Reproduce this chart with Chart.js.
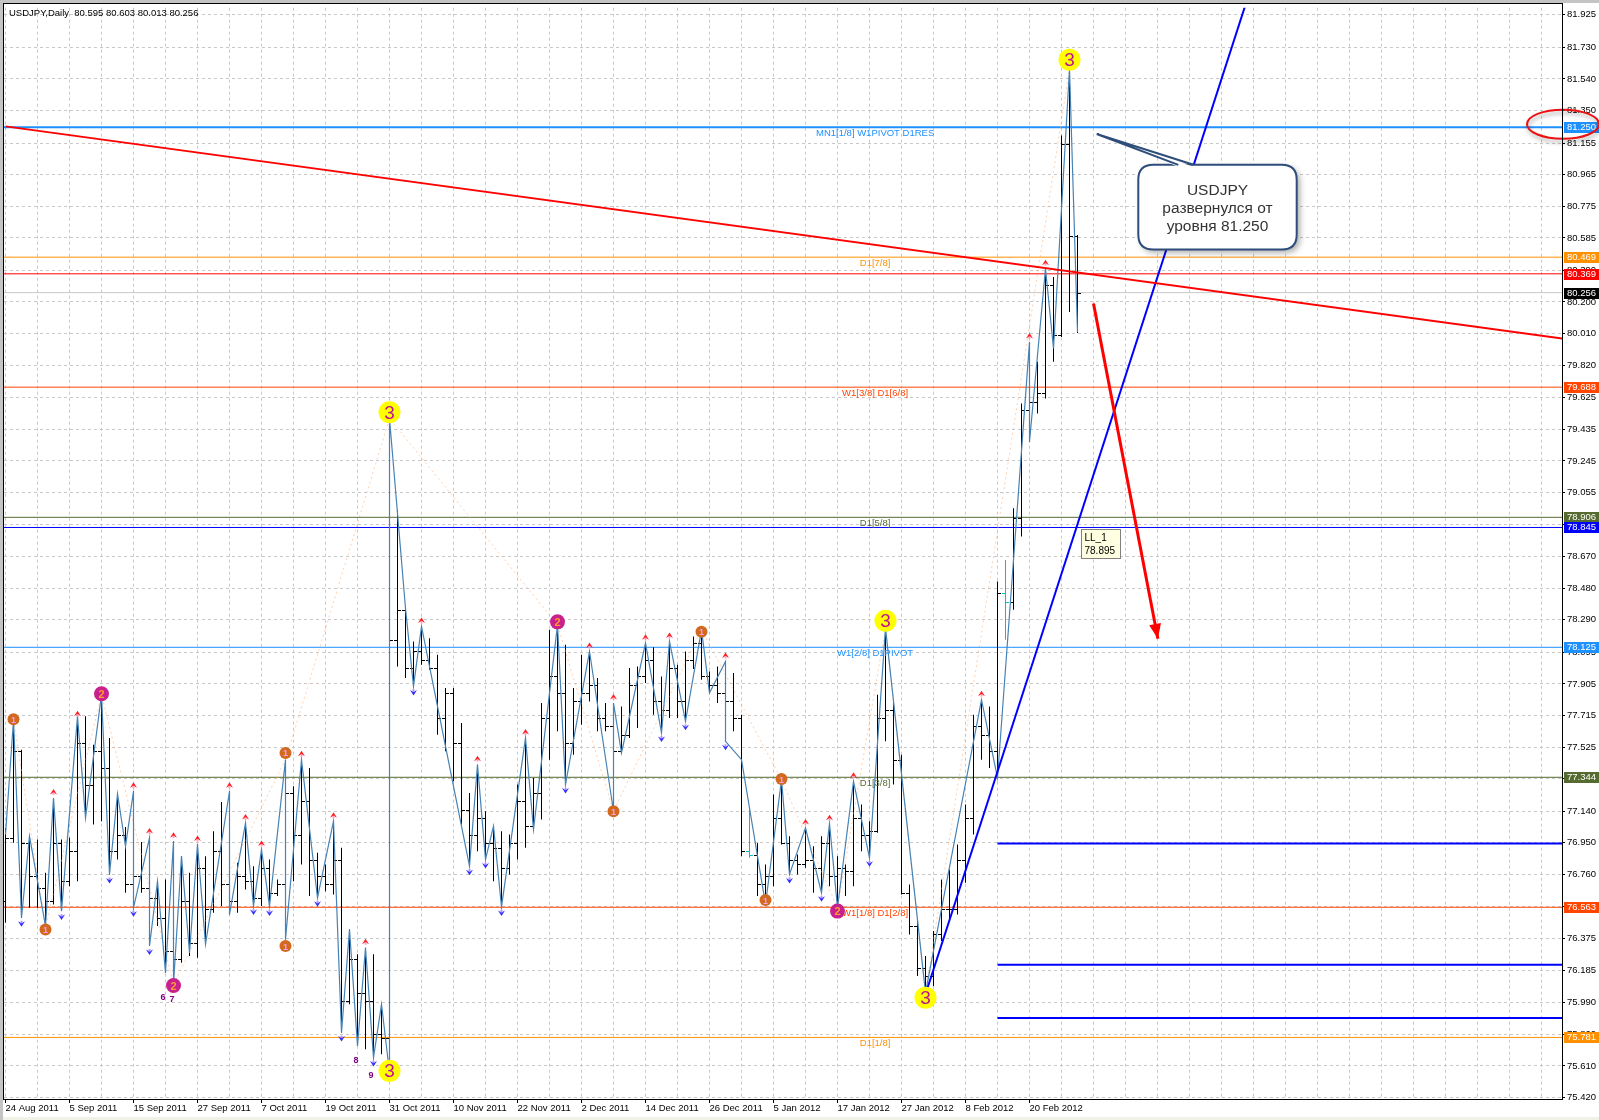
<!DOCTYPE html>
<html>
<head>
<meta charset="utf-8">
<title>USDJPY Daily</title>
<script src="https://cdn.jsdelivr.net/npm/chart.js@4.4.1/dist/chart.umd.min.js"></script>
<style>
html,body{margin:0;padding:0;background:#ffffff;overflow:hidden;}
#c{display:block;}
</style>
</head>
<body>
<canvas id="c" width="1599" height="1120" style="width:1599px;height:1120px"></canvas>
<script>
const FONT = '"Liberation Sans", Arial, sans-serif';
const symbolName = 'USDJPY';
const periodName = 'Daily';

const dateLabels = ['24 Aug 2011','5 Sep 2011','15 Sep 2011','27 Sep 2011','7 Oct 2011','19 Oct 2011','31 Oct 2011','10 Nov 2011','22 Nov 2011','2 Dec 2011','14 Dec 2011','26 Dec 2011','5 Jan 2012','17 Jan 2012','27 Jan 2012','8 Feb 2012','20 Feb 2012'];
const yTickValues = [81.925,81.730,81.540,81.350,81.155,80.965,80.775,80.585,80.390,80.200,80.010,79.820,79.625,79.435,79.245,79.055,78.860,78.670,78.480,78.290,78.095,77.905,77.715,77.525,77.335,77.140,76.950,76.760,76.570,76.375,76.185,75.990,75.800,75.610,75.420];

const opens = [76.60,76.98,77.50,76.95,76.75,76.68,76.60,76.95,76.72,76.90,
 77.55,77.30,77.50,77.40,76.90,77.00,76.70,76.75,76.68,76.62,
 76.50,76.30,76.25,76.60,76.35,76.80,76.55,76.90,76.70,76.60,
 76.75,76.72,76.62,76.80,76.65,76.70,77.25,77.00,77.20,76.85,
 76.75,76.70,76.85,76.00,76.25,76.05,76.00,75.80,75.78,78.17,
 78.35,78.00,78.10,78.05,78.00,77.70,77.85,77.55,77.15,77.00,
 77.10,76.95,76.92,76.80,76.95,77.20,77.05,77.25,77.70,77.95,
 77.85,77.55,77.80,77.85,77.90,77.70,77.65,77.50,77.60,77.90,
 77.95,78.05,77.80,77.75,78.00,77.80,78.05,78.15,77.95,77.90,
 77.85,77.80,77.70,76.90,76.88,76.70,76.75,77.10,76.95,76.85,
 76.82,76.85,76.80,76.95,76.75,76.80,76.78,77.10,77.00,77.02,
 77.70,77.75,77.45,76.65,76.45,76.20,76.15,76.40,76.55,76.55,
 76.85,77.10,77.65,77.60,77.50,78.45,78.40,78.90,79.55,79.60,
 79.65,80.30,80.00,81.15,80.595];
const highs = [77.04,77.69,77.51,76.99,76.97,76.77,77.22,76.97,76.98,77.69,
 77.71,77.54,77.84,77.58,77.245,77.045,77.26,76.955,76.985,76.72,
 76.73,76.96,76.87,76.77,76.94,76.87,77.02,77.195,77.26,76.83,
 77.07,76.81,76.91,76.85,76.73,77.45,77.29,77.45,77.40,76.89,
 76.82,77.08,76.92,76.43,76.28,76.32,76.28,75.98,79.50,78.95,
 78.37,78.16,78.25,78.18,78.08,77.88,77.88,77.67,77.25,77.42,
 77.14,77.05,77.02,77.00,77.30,77.58,77.34,77.79,78.23,78.26,
 78.14,77.88,78.08,78.10,77.94,77.79,77.79,77.77,78.00,78.01,
 78.15,78.125,77.95,78.16,78.02,78.10,78.19,78.23,77.98,78.01,
 78.04,77.97,77.72,77.15,76.95,76.82,77.24,77.33,76.99,76.88,
 77.04,76.93,76.99,77.065,76.87,76.82,77.32,77.18,77.08,77.84,
 78.24,77.79,77.48,76.70,76.48,76.27,76.42,76.73,76.79,76.94,
 77.18,77.72,77.81,77.77,78.52,78.65,78.96,79.59,79.96,79.84,
 80.40,80.35,81.20,81.60,80.603];
const lows = [76.47,76.95,76.50,76.56,76.56,76.45,76.58,76.54,76.69,76.72,
 77.10,77.06,77.08,76.76,76.85,76.65,76.56,76.65,76.33,76.45,
 76.17,76.10,76.23,76.27,76.26,76.34,76.53,76.57,76.52,76.53,
 76.67,76.57,76.57,76.565,76.63,76.37,76.72,76.82,76.63,76.62,
 76.66,76.64,75.81,75.98,75.73,75.71,75.66,75.68,75.57,78.01,
 77.94,77.89,78.02,77.99,77.60,77.50,77.32,77.06,76.81,76.90,
 76.85,76.72,76.565,76.76,76.85,76.92,77.03,77.09,77.45,77.62,
 77.30,77.48,77.66,77.80,77.62,77.62,77.14,77.49,77.58,77.64,
 77.91,77.72,77.61,77.70,77.70,77.68,77.995,77.93,77.85,77.79,
 77.56,77.62,76.87,76.86,76.63,76.58,76.69,76.94,76.76,76.76,
 76.80,76.65,76.65,76.69,76.56,76.63,76.69,76.90,76.86,77.01,
 77.56,77.30,76.64,76.40,76.15,76.05,76.09,76.36,76.49,76.52,
 76.71,77.00,77.45,77.40,77.34,78.17,78.35,78.79,79.36,79.53,
 79.62,79.84,79.99,80.14,80.013];
const closes = [76.98,77.50,76.95,76.75,76.68,76.60,76.95,76.72,76.90,77.55,
 77.30,77.50,77.40,76.90,77.00,76.70,76.75,76.68,76.62,76.50,
 76.30,76.25,76.60,76.35,76.80,76.55,76.90,76.70,76.60,76.75,
 76.72,76.62,76.80,76.65,76.70,77.25,77.00,77.20,76.85,76.75,
 76.70,76.85,76.00,76.25,76.05,76.00,75.80,75.78,78.17,78.35,
 78.00,78.10,78.05,78.00,77.70,77.85,77.55,77.15,77.00,77.10,
 76.95,76.92,76.80,76.95,77.20,77.05,77.25,77.70,77.95,77.85,
 77.55,77.80,77.85,77.90,77.70,77.65,77.50,77.60,77.90,77.95,
 78.05,77.80,77.75,78.00,77.80,78.05,78.15,77.95,77.90,77.85,
 77.80,77.70,76.90,76.88,76.70,76.75,77.10,76.95,76.85,76.82,
 76.85,76.80,76.95,76.75,76.80,76.78,77.10,77.00,77.02,77.70,
 77.75,77.45,76.65,76.45,76.20,76.15,76.40,76.55,76.55,76.85,
 77.10,77.65,77.60,77.50,78.45,78.40,78.90,79.55,79.60,79.65,
 80.30,80.00,81.15,80.595,80.256];
const cyanBars = [93,125];

const swingIdx = [0,1,2,3,4,5,6,7,9,10,12,13,14,15,16,16,18,18,19,20,21,21,22,23,24,25,28,28,30,31,32,33,35,35,37,39,41,42,43,44,45,46,47,48,48,50,51,52,58,59,60,61,62,65,66,69,70,73,76,76,77,80,82,83,85,87,88,90,90,92,95,97,98,100,102,103,104,106,108,110,115,122,124,128,128,130,131,133,134];
const swingPrice = [77.00,77.69,76.50,76.99,76.72,76.45,77.22,76.54,77.71,77.10,
 77.84,76.76,77.245,76.93,77.26,76.56,76.98,76.33,76.72,76.17,
 76.96,76.10,76.87,76.29,76.94,76.34,77.26,76.52,77.07,76.57,
 76.91,76.57,77.45,76.37,77.45,76.62,77.08,75.81,76.43,75.73,
 76.32,75.66,75.98,75.57,79.50,78.36,77.89,78.25,76.81,77.42,
 76.85,77.05,76.565,77.58,77.03,78.26,77.30,78.10,77.14,77.79,
 77.49,78.15,77.61,78.16,77.68,78.23,77.85,78.04,77.56,77.45,
 76.58,77.33,76.76,77.04,76.65,77.065,76.56,77.32,76.86,78.24,
 76.05,77.81,77.34,79.96,79.36,80.40,79.92,81.60,80.02];

const waveLineIdx = [1,5,12,21,35,48,69,76,87,97,104,110,115,133];
const waveLinePrice = [77.69,76.45,77.84,76.10,77.45,79.50,78.26,77.14,78.23,77.33,76.56,78.24,76.05,81.60];

const waveIdx = [1,5,35,35,76,87,95,97,12,21,69,104,48,48,110,115,133];
const wavePrice = [77.692,76.43,77.49,76.33,77.14,78.218,76.606,77.333,77.846,76.093,78.278,76.54,79.537,75.58,78.285,76.02,81.656];
const waveNum = [1,1,1,1,1,1,1,1,2,2,2,2,3,3,3,3,3];

const subIdx = [19.7,20.8,43.8,45.7];
const subPrice = [76.020,76.008,75.641,75.555];
const subText = ['6','7','8','9'];

const redArrowIdx = [6,9,16,18,21,24,28,30,32,37,41,45,52,59,65,73,76,80,83,90,100,103,106,122,128,130];
const blueArrowIdx = [2,7,13,16,18,31,33,39,42,46,51,58,60,62,70,82,85,90,98,102,108];

const levelPrice = [81.250,80.469,80.369,80.256,79.688,78.906,78.845,78.125,77.344,76.563,75.781];
const levelColor = ['#1e90ff','#ff9000','#ff0000','#c8c8c8','#ff4500','#556b2f','#0000ff','#1e90ff','#556b2f','#ff4500','#ff9000'];
const levelBoxColor = ['#1e90ff','#ff9000','#ff0000','#000000','#ff4500','#556b2f','#0000ff','#1e90ff','#556b2f','#ff4500','#ff9000'];
const levelWidth = [2,1,1,1,1,1,1,1,1,1,1];
const levelText = ['MN1[1/8] W1PIVOT D1RES','D1[7/8]','','','W1[3/8] D1[6/8]','D1[5/8]','','W1[2/8] D1PIVOT','D1[3/8]','W1[1/8] D1[2/8]','D1[1/8]'];
const levelLabelBar = 108.7;

const partialStart = 124;
const partialPrice = [76.946,76.218,75.898];
const redTrendIdx = [0,194.6];
const redTrendPrice = [81.255,79.98];
const blueTrendIdx = [115,155.5];
const blueTrendPrice = [76.04,82.06];
const arrowIdx = [136.0,144.05];
const arrowPrice = [80.191,78.176];

const noteText = ['USDJPY','развернулся от','уровня 81.250'];
const noteBoxIdx = [141.6,161.4];
const noteBoxPrice = [81.024,80.515];
const noteTailIdx = [136.4,146.6,148.5];
const noteTailPrice = 81.209;
const llIdx = 134.4, llPrice = 78.836;
const llText = ['LL_1','78.895'];
const circledLevel = 81.250;

// ---------- datasets ----------
const gridBars = [];
for (let v = 0; v <= 192; v += 4) gridBars.push(v);

const datasets = [];
levelPrice.forEach((p,k) => datasets.push({
  type:'line', data:[{x:-1,y:p},{x:200,y:p}], borderColor:levelColor[k], borderWidth:levelWidth[k],
  pointRadius:0, order:30
}));
partialPrice.forEach(p => datasets.push({
  type:'line', data:[{x:partialStart,y:p},{x:200,y:p}], borderColor:'#0000ff', borderWidth:2, pointRadius:0, order:25
}));
const OHLC_INDEX = datasets.length;
datasets.push({
  type:'bar', data: highs.map((h,i)=>({x:i, y:[lows[i], h]})),
  backgroundColor: highs.map((h,i)=> cyanBars.includes(i) ? '#00bcd4' : '#000000'),
  borderWidth:0, barThickness:1, inflateAmount:0, grouped:false, order:20
});
datasets.push({
  type:'line', data: waveLineIdx.map((x,k)=>({x, y:waveLinePrice[k]})),
  borderColor:'rgba(255,170,110,0.55)', borderWidth:1, borderDash:[2,3], pointRadius:0, order:15
});
datasets.push({
  type:'line', data: swingIdx.map((x,k)=>({x, y:swingPrice[k]})),
  borderColor:'#4682b4', borderWidth:1.2, pointRadius:0, tension:0, order:12
});
datasets.push({
  type:'line', data: redTrendIdx.map((x,k)=>({x, y:redTrendPrice[k]})),
  borderColor:'#ff0000', borderWidth:2, pointRadius:0, order:10
});
datasets.push({
  type:'line', data: blueTrendIdx.map((x,k)=>({x, y:blueTrendPrice[k]})),
  borderColor:'#0000ff', borderWidth:2, pointRadius:0, order:10
});
const ARROW_INDEX = datasets.length;
datasets.push({
  type:'line', data: arrowIdx.map((x,k)=>({x, y:arrowPrice[k]})),
  borderColor:'#ff0000', borderWidth:3, pointRadius:0, order:8
});

// ---------- overlay plugin ----------
function rr(c, x, y, w, h, r){
  c.beginPath();
  c.moveTo(x+r, y); c.lineTo(x+w-r, y); c.quadraticCurveTo(x+w, y, x+w, y+r);
  c.lineTo(x+w, y+h-r); c.quadraticCurveTo(x+w, y+h, x+w-r, y+h);
  c.lineTo(x+r, y+h); c.quadraticCurveTo(x, y+h, x, y+h-r);
  c.lineTo(x, y+r); c.quadraticCurveTo(x, y, x+r, y); c.closePath();
}

const overlay = {
  id:'overlay',
  beforeDraw(chart){
    const c = chart.ctx; c.save();
    c.fillStyle = '#ffffff'; c.fillRect(0,0,1599,1120);
    c.fillStyle = '#c4c4c4'; c.fillRect(0,0,1599,3); c.fillRect(0,0,3,1120);
    c.fillStyle = '#f1f1e8'; c.fillRect(3,1117,1596,3);
    c.restore();
  },
  afterDatasetDraw(chart, args){
    if (args.index !== OHLC_INDEX) return;
    const c = chart.ctx, xs = chart.scales.x, ys = chart.scales.y, a = chart.chartArea;
    c.save();
    c.beginPath(); c.rect(a.left, a.top, a.right-a.left, a.bottom-a.top); c.clip();
    c.lineWidth = 1;
    for (let i = 0; i < opens.length; i++){
      const x = Math.round(xs.getPixelForValue(i) - 0.5);
      const yo = Math.round(ys.getPixelForValue(opens[i])) + 0.5;
      const yc = Math.round(ys.getPixelForValue(closes[i])) + 0.5;
      c.strokeStyle = cyanBars.includes(i) ? '#00bcd4' : '#000000';
      c.beginPath();
      c.moveTo(x-3, yo); c.lineTo(x, yo);
      c.moveTo(x+1, yc); c.lineTo(x+4, yc);
      c.stroke();
    }
    c.restore();
  },
  afterDatasetsDraw(chart){
    const c = chart.ctx, xs = chart.scales.x, ys = chart.scales.y, a = chart.chartArea;
    const X = v => xs.getPixelForValue(v), Y = v => ys.getPixelForValue(v);
    c.save();
    c.beginPath(); c.rect(a.left, a.top, a.right-a.left, a.bottom-a.top); c.clip();

    // red arrow head
    const ad = chart.data.datasets[ARROW_INDEX].data;
    const p0 = {x:X(ad[0].x), y:Y(ad[0].y)}, p1 = {x:X(ad[1].x), y:Y(ad[1].y)};
    const ang = Math.atan2(p1.y-p0.y, p1.x-p0.x);
    const hl = 15, hw = 6;
    c.fillStyle = '#ff0000';
    c.beginPath();
    c.moveTo(p1.x, p1.y);
    c.lineTo(p1.x - hl*Math.cos(ang) + hw*Math.sin(ang), p1.y - hl*Math.sin(ang) - hw*Math.cos(ang));
    c.lineTo(p1.x - hl*Math.cos(ang) - hw*Math.sin(ang), p1.y - hl*Math.sin(ang) + hw*Math.cos(ang));
    c.closePath(); c.fill();

    // fractal arrows
    redArrowIdx.forEach(i => {
      const x = X(i), y = Y(highs[i]) - 6;
      c.fillStyle = '#ff2020';
      c.beginPath(); c.moveTo(x-3.5, y+2.5); c.lineTo(x, y-3); c.lineTo(x+3.5, y+2.5); c.lineTo(x, y+0.5); c.closePath(); c.fill();
      c.fillStyle = 'rgba(255,150,190,0.9)'; c.fillRect(x-1, y+0.5, 2, 2.5);
    });
    blueArrowIdx.forEach(i => {
      const x = X(i), y = Y(lows[i]) + 6;
      c.fillStyle = '#3030ff';
      c.beginPath(); c.moveTo(x-3.5, y-2.5); c.lineTo(x, y+3); c.lineTo(x+3.5, y-2.5); c.lineTo(x, y-0.5); c.closePath(); c.fill();
      c.fillStyle = 'rgba(170,140,255,0.9)'; c.fillRect(x-1, y-3, 2, 2.5);
    });

    // level labels
    c.font = '9.5px ' + FONT; c.textAlign = 'center'; c.textBaseline = 'middle';
    levelPrice.forEach((p,k) => {
      if (!levelText[k]) return;
      c.fillStyle = levelColor[k];
      c.fillText(levelText[k], X(levelLabelBar), Y(p) + 6);
    });

    // small count digits
    c.font = 'bold 9px ' + FONT; c.fillStyle = '#800080';
    subText.forEach((t,k) => c.fillText(t, X(subIdx[k]), Y(subPrice[k])));

    // wave circles
    waveIdx.forEach((i,k) => {
      const x = X(i), y = Y(wavePrice[k]), n = waveNum[k];
      let r, fill, col, fs;
      if (n === 1){ r = 6; fill = '#d2691e'; col = '#f0a0e8'; fs = 'bold 9px '; }
      else if (n === 2){ r = 7.5; fill = '#c8208c'; col = '#ff9a30'; fs = 'bold 11px '; }
      else { r = 11; fill = '#ffff00'; col = '#c0148c'; fs = '19px '; }
      c.fillStyle = fill; c.beginPath(); c.arc(x, y, r, 0, Math.PI*2); c.fill();
      c.fillStyle = col; c.font = fs + FONT; c.textAlign = 'center'; c.textBaseline = 'middle';
      c.fillText(String(n), x, y + 1);
    });

    // LL_1 label
    const lx = Math.round(X(llIdx)) + 0.5, ly = Math.round(Y(llPrice)) + 0.5;
    c.fillStyle = '#ffffe1'; c.fillRect(lx, ly, 39, 29);
    c.strokeStyle = '#808080'; c.lineWidth = 1; c.strokeRect(lx, ly, 39, 29);
    c.fillStyle = '#000000'; c.font = '10px ' + FONT; c.textAlign = 'left'; c.textBaseline = 'middle';
    c.fillText(llText[0], lx + 3, ly + 8.5); c.fillText(llText[1], lx + 3, ly + 21.5);
    c.restore();

    // price boxes on the axis
    c.save();
    c.font = '9.5px ' + FONT; c.textAlign = 'left'; c.textBaseline = 'middle';
    levelPrice.forEach((p,k) => {
      const y = Math.round(Y(p));
      c.fillStyle = levelBoxColor[k];
      c.fillRect(a.right + 2, y - 5, 35, 11);
      c.fillStyle = '#ffffff';
      c.fillText(p.toFixed(3), a.right + 5, y + 0.5);
    });
    c.restore();
  },
  afterDraw(chart){
    const c = chart.ctx, xs = chart.scales.x, ys = chart.scales.y, a = chart.chartArea;
    const X = v => xs.getPixelForValue(v), Y = v => ys.getPixelForValue(v);
    c.save();
    // callout
    const bx1 = X(noteBoxIdx[0]), bx2 = X(noteBoxIdx[1]), by1 = Y(noteBoxPrice[0]), by2 = Y(noteBoxPrice[1]);
    c.save();
    c.shadowColor = 'rgba(0,0,0,0.35)'; c.shadowBlur = 6; c.shadowOffsetX = 3; c.shadowOffsetY = 3;
    rr(c, bx1, by1, bx2-bx1, by2-by1, 15); c.fillStyle = '#ffffff'; c.fill();
    c.restore();
    c.lineWidth = 2; c.strokeStyle = '#2e4d7b';
    rr(c, bx1, by1, bx2-bx1, by2-by1, 15); c.stroke();
    const tx = X(noteTailIdx[0]), ty = Y(noteTailPrice);
    const t1 = X(noteTailIdx[1]), t2 = X(noteTailIdx[2]);
    c.fillStyle = '#ffffff';
    c.beginPath(); c.moveTo(tx, ty); c.lineTo(t1, by1 + 2); c.lineTo(t2, by1 + 2); c.closePath(); c.fill();
    c.beginPath(); c.moveTo(t1, by1); c.lineTo(tx, ty); c.lineTo(t2, by1); c.stroke();
    c.fillStyle = '#333333'; c.font = '15.5px ' + FONT; c.textAlign = 'center'; c.textBaseline = 'middle';
    const cx = (bx1 + bx2) / 2;
    c.fillText(noteText[0], cx, by1 + 25.6);
    c.fillText(noteText[1], cx, by1 + 44.3);
    c.fillText(noteText[2], cx, by1 + 61.6);

    // red ellipse around the 81.250 price box
    c.save();
    c.shadowColor = 'rgba(0,0,0,0.35)'; c.shadowBlur = 4; c.shadowOffsetX = 1; c.shadowOffsetY = 3;
    c.strokeStyle = '#ee1111'; c.lineWidth = 2;
    c.beginPath(); c.ellipse(a.right + 1, Y(circledLevel) - 3, 36, 14.5, 0, 0, Math.PI*2); c.stroke();
    c.restore();

    // header
    const L = opens.length - 1;
    c.fillStyle = '#000000'; c.font = '9.5px ' + FONT; c.textAlign = 'left'; c.textBaseline = 'middle';
    c.fillText(symbolName + ',' + periodName + '  ' + [opens[L], highs[L], lows[L], closes[L]].map(v=>v.toFixed(3)).join(' '), 9, 13.5);

    // frame
    c.strokeStyle = '#000000'; c.lineWidth = 1;
    c.strokeRect(3.5, 3.5, a.right - 3, a.bottom - 3);
    c.restore();
  }
};

new Chart(document.getElementById('c'), {
  type:'line',
  data:{ datasets },
  options:{
    responsive:false, animation:false, devicePixelRatio:1,
    layout:{ padding:{ left:4, top:4, right:0, bottom:0 } },
    plugins:{ legend:{display:false}, tooltip:{enabled:false} },
    events:[],
    scales:{
      x:{
        type:'linear', min:-0.1875, max:194.5625, offset:false, bounds:'data',
        afterFit: s => { s.height = 21; },
        afterBuildTicks: s => { s.ticks = gridBars.map(v => ({value:v})); },
        grid:{ color:'#c8c8c8', lineWidth:1, offset:false, drawTicks:true, tickLength:4,
          tickColor: ctx => (ctx.tick && ctx.tick.value % 8 === 0 && ctx.tick.value / 8 < dateLabels.length) ? '#000000' : 'rgba(0,0,0,0)' },
        border:{ display:true, color:'#000000', width:1, dash:[3,3] },
        ticks:{ autoSkip:false, maxRotation:0, minRotation:0, align:'start', padding:0, color:'#000000',
          font:{ family:FONT, size:9.5 },
          callback: v => (v % 8 === 0 && v / 8 < dateLabels.length) ? dateLabels[v / 8] : '' }
      },
      y:{
        type:'linear', position:'right', min:75.411, max:81.968, bounds:'data', beginAtZero:false,
        afterFit: s => { s.width = 37; },
        afterBuildTicks: s => { s.ticks = yTickValues.map(v => ({value:v})); },
        grid:{ color:'#c8c8c8', lineWidth:1, tickLength:3, tickColor:'#000000' },
        border:{ display:true, color:'#000000', width:1, dash:[3,3] },
        ticks:{ autoSkip:false, padding:2, color:'#000000', font:{ family:FONT, size:9.5 },
          callback: v => Number(v).toFixed(3) }
      }
    }
  },
  plugins:[overlay]
});
</script>
</body>
</html>
